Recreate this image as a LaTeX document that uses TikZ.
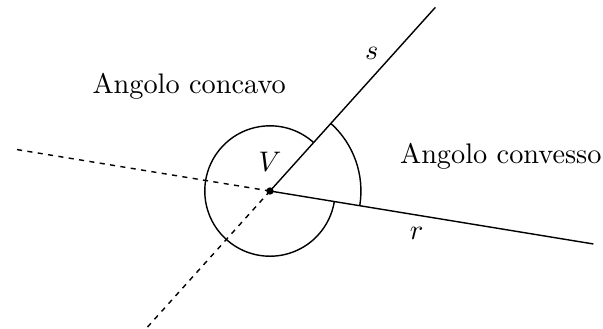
\documentclass[tikz,border=0pt]{standalone}
\usepackage{tikz}
\usetikzlibrary{calc}
\tikzset{
    raggio/.style={
        line width=0.5pt,
        black
    },
    % prolungamento tratteggiato delle semirette
    prolunga/.style={
        line width=0.5pt,
        black,
        dash pattern=on 1.8pt off 1.9pt
    },
    arco/.style={
        line width=0.5pt,
        black
    }
}
\begin{document}
\begin{tikzpicture}
    \useasboundingbox (-3.354,-1.714) rectangle (4.137,2.373);

    \coordinate (V) at (0,0);
    \coordinate (r) at ($(V)+(-9.3:4.07)$);
    \coordinate (s) at ($(V)+(48:3.07)$);
    \coordinate (rr) at ($(V)+(170.7:3.22)$);
    \coordinate (ss) at ($(V)+(228:2.31)$);
    \coordinate (a1) at ($(V)+(-9.3:1.13)$);
    \coordinate (a2) at ($(V)+(48:0.81)$);

    \draw[raggio] (V) -- (r);
    \draw[raggio] (V) -- (s);
    \draw[prolunga] (V) -- (rr);
    \draw[prolunga] (V) -- (ss);

    \draw[arco] (a1) arc[start angle=-9.3, end angle=48, radius=1.13];
    \draw[arco] (a2) arc[start angle=48, end angle=350.7, radius=0.81];

    \fill[black] (V) circle (1.3pt);

    \node[black] (lblV) at (0,0.364) {$V$};
    \node[black] (lblS) at (1.263,1.709) {$s$};
    \node[black] (lblR) at (1.822,-0.525) {$r$};
    \node[black] (concavo) at (-1.004,1.30) {Angolo concavo};
    \node[black] (convesso) at (2.867,0.431) {Angolo convesso};
\end{tikzpicture}
\end{document}
